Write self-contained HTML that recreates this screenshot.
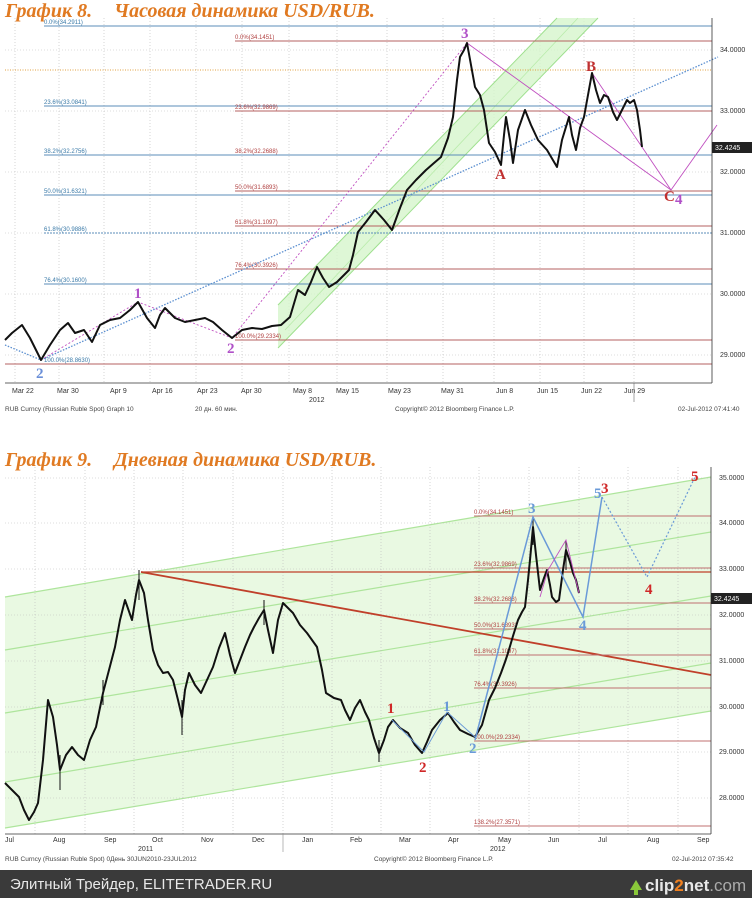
<!DOCTYPE html>
<html><head><meta charset="utf-8"><style>
html,body{margin:0;padding:0;background:#fff}
svg{display:block}
.t{font-family:"Liberation Serif","DejaVu Serif",serif;font-weight:bold;font-style:italic;fill:#e07a22;font-size:20px}
.ax{font-family:"Liberation Sans",sans-serif;font-size:7px;fill:#333}
.ft{font-family:"Liberation Sans",sans-serif;font-size:6.5px;fill:#444}
.fb{font-family:"Liberation Sans",sans-serif;font-size:6px;fill:#3a7aa8}
.fr{font-family:"Liberation Sans",sans-serif;font-size:6px;fill:#b04040}
.w{font-family:"Liberation Serif",serif;font-weight:bold;font-size:15px}
</style></head><body>
<svg width="752" height="898" viewBox="0 0 752 898" xmlns="http://www.w3.org/2000/svg">
<rect width="752" height="898" fill="#fff"/>
<text class="t" x="5" y="17">График 8.<tspan dx="22">Часовая динамика USD/RUB.</tspan></text>
<g stroke="#bbb" stroke-width="0.6" stroke-dasharray="1,2">
<line x1="5" y1="50" x2="712" y2="50"/><line x1="5" y1="111" x2="712" y2="111"/><line x1="5" y1="172" x2="712" y2="172"/>
<line x1="5" y1="233" x2="712" y2="233"/><line x1="5" y1="294" x2="712" y2="294"/><line x1="5" y1="355" x2="712" y2="355"/>
<line x1="15" y1="18" x2="15" y2="383"/><line x1="59" y1="18" x2="59" y2="383"/><line x1="104" y1="18" x2="104" y2="383"/>
<line x1="150" y1="18" x2="150" y2="383"/><line x1="196" y1="18" x2="196" y2="383"/><line x1="242" y1="18" x2="242" y2="383"/>
<line x1="289" y1="18" x2="289" y2="383"/><line x1="337" y1="18" x2="337" y2="383"/><line x1="387" y1="18" x2="387" y2="383"/>
<line x1="443" y1="18" x2="443" y2="383"/><line x1="494" y1="18" x2="494" y2="383"/><line x1="540" y1="18" x2="540" y2="383"/>
<line x1="584" y1="18" x2="584" y2="383"/><line x1="634" y1="18" x2="634" y2="383"/>
</g>
<polygon points="278,348 598,18 557,18 278,305" fill="#d6f5cc" opacity="0.8"/>
<line x1="278" y1="348" x2="598" y2="18" stroke="#9ee08e" stroke-width="1"/>
<line x1="278" y1="305" x2="557" y2="18" stroke="#9ee08e" stroke-width="1"/>
<line x1="285" y1="330" x2="578" y2="18" stroke="#b8ebaa" stroke-width="0.8"/>
<g stroke="#5b8db8" stroke-width="1">
<line x1="44" y1="26" x2="712" y2="26"/><line x1="44" y1="106" x2="712" y2="106"/><line x1="44" y1="155" x2="712" y2="155"/>
<line x1="44" y1="195" x2="712" y2="195"/><line x1="44" y1="284" x2="712" y2="284"/>
</g>
<line x1="44" y1="233" x2="712" y2="233" stroke="#5b8db8" stroke-width="1" stroke-dasharray="2,1"/>
<g stroke="#b56060" stroke-width="1">
<line x1="235" y1="41" x2="712" y2="41"/><line x1="235" y1="111" x2="712" y2="111"/><line x1="235" y1="191" x2="712" y2="191"/>
<line x1="235" y1="226" x2="712" y2="226"/><line x1="235" y1="269" x2="712" y2="269"/><line x1="235" y1="340" x2="712" y2="340"/>
<line x1="5" y1="364" x2="712" y2="364"/>
</g>
<line x1="5" y1="70" x2="712" y2="70" stroke="#e0a040" stroke-width="1" stroke-dasharray="1,1.5"/>
<text class="fb" x="44" y="24">0.0%(34.2911)</text><text class="fb" x="44" y="104">23.6%(33.0841)</text>
<text class="fb" x="44" y="153">38.2%(32.2756)</text><text class="fb" x="44" y="193">50.0%(31.6321)</text>
<text class="fb" x="44" y="231">61.8%(30.9886)</text><text class="fb" x="44" y="282">76.4%(30.1600)</text>
<text class="fb" x="44" y="362">100.0%(28.8630)</text>
<text class="fr" x="235" y="39">0.0%(34.1451)</text><text class="fr" x="235" y="109">23.6%(32.9869)</text>
<text class="fr" x="235" y="153">38.2%(32.2688)</text><text class="fr" x="235" y="189">50.0%(31.6893)</text>
<text class="fr" x="235" y="224">61.8%(31.1097)</text><text class="fr" x="235" y="267">76.4%(30.3926)</text>
<text class="fr" x="235" y="338">100.0%(29.2334)</text>
<polyline points="5,345 41,360 718,57" fill="none" stroke="#5b8fd0" stroke-width="1.3" stroke-dasharray="1.5,1.5"/>
<polyline points="41,360 138,302 232,338 467,43" fill="none" stroke="#c050c0" stroke-width="0.9" stroke-dasharray="2,2"/>
<polyline points="467,43 671,190 717,125" fill="none" stroke="#c050c0" stroke-width="0.9"/>
<polyline points="592,73 642,147 671,190" fill="none" stroke="#c050c0" stroke-width="0.9"/>
<polyline fill="none" stroke="#111" stroke-width="2" stroke-linejoin="round" points="5,340 12,333 22,325 30,338 41,360 50,345 60,330 68,323 75,333 84,330 92,342 100,325 110,320 120,318 130,310 138,302 147,318 155,328 160,315 165,308 175,318 185,322 195,320 205,318 213,322 222,330 232,338 242,330 252,328 262,329 272,326 281,325 290,317 298,290 305,295 311,282 317,267 323,278 329,287 337,282 349,270 353,255 358,232 366,222 375,210 384,220 392,230 400,208 407,190 416,180 426,170 434,163 441,157 448,138 453,117 457,80 460,57 464,50 467,43 471,65 475,87 480,95 484,110 489,143 495,152 501,165 504,135 506,117 510,140 513,163 518,130 525,110 531,125 538,140 547,150 557,167 562,140 569,117 572,135 576,150 580,128 584,117 588,95 592,73 596,90 600,103 604,95 608,97 613,112 617,120 622,110 627,100 630,103 634,100 637,110 640,130 642,147"/>
<text class="w" x="134" y="298" fill="#b050c8">1</text>
<text class="w" x="36" y="378" fill="#6a8fd8">2</text>
<text class="w" x="227" y="353" fill="#b050c8">2</text>
<text class="w" x="461" y="38" fill="#b050c8">3</text>
<text class="w" x="495" y="179" fill="#c03030" font-size="12">A</text>
<text class="w" x="586" y="71" fill="#c03030" font-size="12">B</text>
<text class="w" x="664" y="201" fill="#c03030" font-size="13">C</text>
<text class="w" x="675" y="204" fill="#b050c8">4</text>
<line x1="712" y1="18" x2="712" y2="383" stroke="#333" stroke-width="0.8"/>
<line x1="5" y1="383" x2="712" y2="383" stroke="#333" stroke-width="0.8"/>
<g class="ax"><text x="720" y="52">34.0000</text><text x="720" y="113">33.0000</text><text x="720" y="174">32.0000</text>
<text x="720" y="235">31.0000</text><text x="720" y="296">30.0000</text><text x="720" y="357">29.0000</text></g>
<rect x="712" y="142" width="40" height="11" fill="#222"/><text class="ax" x="715" y="150" style="fill:#fff">32.4245</text>
<g class="ax"><text x="12" y="393">Mar 22</text><text x="57" y="393">Mar 30</text><text x="110" y="393">Apr 9</text>
<text x="152" y="393">Apr 16</text><text x="197" y="393">Apr 23</text><text x="241" y="393">Apr 30</text>
<text x="293" y="393">May 8</text><text x="336" y="393">May 15</text><text x="388" y="393">May 23</text>
<text x="441" y="393">May 31</text><text x="496" y="393">Jun 8</text><text x="537" y="393">Jun 15</text>
<text x="581" y="393">Jun 22</text><text x="624" y="393">Jun 29</text><text x="309" y="402">2012</text></g>
<line x1="634" y1="383" x2="634" y2="402" stroke="#666" stroke-width="0.6"/>
<g class="ft"><text x="5" y="411">RUB Curncy (Russian Ruble Spot) Graph 10</text><text x="195" y="411">20 дн. 60 мин.</text>
<text x="395" y="411">Copyright© 2012 Bloomberg Finance L.P.</text><text x="678" y="411">02-Jul-2012 07:41:40</text></g>

<text class="t" x="5" y="466">График 9.<tspan dx="22">Дневная динамика USD/RUB.</tspan></text>
<polygon points="5,597 711,477 711,834 5,834" fill="#e9f9e2"/>
<polygon points="5,828 711,711 711,834 5,834" fill="#fff"/>
<g stroke="#aee59c" stroke-width="1.2">
<line x1="5" y1="597" x2="711" y2="477"/><line x1="5" y1="650" x2="711" y2="532"/><line x1="5" y1="713" x2="711" y2="596"/>
<line x1="5" y1="782" x2="711" y2="663"/><line x1="5" y1="828" x2="711" y2="711"/>
</g>
<g stroke="#bbb" stroke-width="0.6" stroke-dasharray="1,2">
<line x1="5" y1="478" x2="711" y2="478"/><line x1="5" y1="523" x2="711" y2="523"/><line x1="5" y1="569" x2="711" y2="569"/>
<line x1="5" y1="615" x2="711" y2="615"/><line x1="5" y1="661" x2="711" y2="661"/><line x1="5" y1="707" x2="711" y2="707"/>
<line x1="5" y1="752" x2="711" y2="752"/><line x1="5" y1="798" x2="711" y2="798"/>
<line x1="35" y1="467" x2="35" y2="834"/><line x1="85" y1="467" x2="85" y2="834"/><line x1="134" y1="467" x2="134" y2="834"/>
<line x1="183" y1="467" x2="183" y2="834"/><line x1="233" y1="467" x2="233" y2="834"/><line x1="283" y1="467" x2="283" y2="834"/>
<line x1="332" y1="467" x2="332" y2="834"/><line x1="381" y1="467" x2="381" y2="834"/><line x1="430" y1="467" x2="430" y2="834"/>
<line x1="479" y1="467" x2="479" y2="834"/><line x1="529" y1="467" x2="529" y2="834"/><line x1="579" y1="467" x2="579" y2="834"/>
<line x1="628" y1="467" x2="628" y2="834"/><line x1="678" y1="467" x2="678" y2="834"/>
</g>
<line x1="141" y1="572" x2="711" y2="675" stroke="#c0402a" stroke-width="1.8"/>
<line x1="141" y1="572" x2="711" y2="572" stroke="#c0402a" stroke-width="1.3"/>
<g stroke="#c07070" stroke-width="1">
<line x1="474" y1="516" x2="711" y2="516"/><line x1="474" y1="568" x2="711" y2="568"/><line x1="474" y1="603" x2="711" y2="603"/>
<line x1="474" y1="629" x2="711" y2="629"/><line x1="474" y1="655" x2="711" y2="655"/><line x1="474" y1="688" x2="711" y2="688"/>
<line x1="474" y1="741" x2="711" y2="741"/><line x1="474" y1="826" x2="711" y2="826"/>
</g>
<text class="fr" x="474" y="514">0.0%(34.1451)</text><text class="fr" x="474" y="566">23.6%(32.9869)</text>
<text class="fr" x="474" y="601">38.2%(32.2688)</text><text class="fr" x="474" y="627">50.0%(31.6893)</text>
<text class="fr" x="474" y="653">61.8%(31.1097)</text><text class="fr" x="474" y="686">76.4%(30.3926)</text>
<text class="fr" x="474" y="739">100.0%(29.2334)</text><text class="fr" x="474" y="824">138.2%(27.3571)</text>
<polyline fill="none" stroke="#111" stroke-width="2" stroke-linejoin="round" points="5,783 12,790 19,797 24,810 29,820 34,812 38,803 43,760 48,700 53,717 57,745 60,770 66,755 72,747 78,755 84,760 90,740 96,727 103,693 109,670 115,647 120,620 125,600 132,620 136,595 139,580 144,593 148,620 153,650 158,665 163,673 168,672 173,680 178,700 182,717 185,690 189,673 195,685 201,693 207,680 213,667 219,648 225,633 230,655 235,673 240,660 245,647 250,635 254,627 259,618 264,610 268,630 273,653 278,620 283,603 288,608 293,613 300,625 307,633 312,640 317,647 322,670 326,693 334,698 341,700 345,710 350,720 355,708 360,700 365,712 369,720 374,738 379,753 384,740 388,727 393,720 400,728 408,733 415,745 422,753 427,742 432,730 440,720 448,713 454,722 460,730 468,734 475,737 482,725 489,700 495,688 501,673 505,662 508,653 513,636 518,620 522,612 525,607 528,580 530,560 533,527 536,555 540,590 544,578 547,570 550,585 552,597 556,602 559,600 563,570 566,550 570,562 573,573 576,580 579,593"/>
<g stroke="#111" stroke-width="1">
<line x1="60" y1="755" x2="60" y2="790"/><line x1="103" y1="680" x2="103" y2="705"/><line x1="139" y1="570" x2="139" y2="600"/>
<line x1="182" y1="700" x2="182" y2="735"/><line x1="264" y1="600" x2="264" y2="625"/><line x1="379" y1="740" x2="379" y2="762"/>
<line x1="533" y1="518" x2="533" y2="545"/><line x1="566" y1="540" x2="566" y2="570"/>
</g>
<polyline points="475,740 533,517 583,617 602,497" fill="none" stroke="#6a9ad8" stroke-width="1.5"/>
<polyline points="602,497 647,577 695,477" fill="none" stroke="#6a9ad8" stroke-width="1.2" stroke-dasharray="2,2"/>
<polyline points="540,597 548,570 566,540 579,593" fill="none" stroke="#c050c0" stroke-width="0.9"/>
<polyline points="392,720 424,752 447,712 475,737" fill="none" stroke="#6a9ad8" stroke-width="0.9"/>
<text class="w" x="387" y="713" fill="#d02828">1</text>
<text class="w" x="419" y="772" fill="#d02828">2</text>
<text class="w" x="443" y="711" fill="#6a9ad8">1</text>
<text class="w" x="469" y="753" fill="#6a9ad8">2</text>
<text class="w" x="528" y="513" fill="#6a9ad8">3</text>
<text class="w" x="579" y="630" fill="#6a9ad8">4</text>
<text class="w" x="594" y="498" fill="#6a9ad8">5</text>
<text class="w" x="601" y="493" fill="#d02828" font-size="17">3</text>
<text class="w" x="645" y="594" fill="#d02828">4</text>
<text class="w" x="691" y="481" fill="#d02828">5</text>
<line x1="711" y1="467" x2="711" y2="834" stroke="#333" stroke-width="0.8"/>
<line x1="5" y1="834" x2="711" y2="834" stroke="#333" stroke-width="0.8"/>
<g class="ax"><text x="719" y="480">35.0000</text><text x="719" y="525">34.0000</text><text x="719" y="571">33.0000</text>
<text x="719" y="617">32.0000</text><text x="719" y="663">31.0000</text><text x="719" y="709">30.0000</text>
<text x="719" y="754">29.0000</text><text x="719" y="800">28.0000</text></g>
<rect x="711" y="593" width="41" height="11" fill="#222"/><text class="ax" x="714" y="601" style="fill:#fff">32.4245</text>
<g class="ax"><text x="5" y="842">Jul</text><text x="53" y="842">Aug</text><text x="104" y="842">Sep</text><text x="152" y="842">Oct</text>
<text x="201" y="842">Nov</text><text x="252" y="842">Dec</text><text x="302" y="842">Jan</text><text x="350" y="842">Feb</text>
<text x="399" y="842">Mar</text><text x="448" y="842">Apr</text><text x="498" y="842">May</text><text x="548" y="842">Jun</text>
<text x="598" y="842">Jul</text><text x="647" y="842">Aug</text><text x="697" y="842">Sep</text>
<text x="138" y="851">2011</text><text x="490" y="851">2012</text></g>
<line x1="283" y1="834" x2="283" y2="852" stroke="#888" stroke-width="0.6"/>
<g class="ft"><text x="5" y="861">RUB Curncy (Russian Ruble Spot) 0День 30JUN2010-23JUL2012</text>
<text x="374" y="861">Copyright© 2012 Bloomberg Finance L.P.</text><text x="672" y="861">02-Jul-2012 07:35:42</text></g>

<rect x="0" y="870" width="752" height="28" fill="#3a3a3a"/>
<text x="10" y="889" font-family="Liberation Sans, sans-serif" font-size="15" fill="#e8e8e8">Элитный Трейдер, ELITETRADER.RU</text>
<polygon points="630,890 636,880 642,890 638,890 638,895 634,895 634,890" fill="#8ac83a"/>
<text x="645" y="891" font-family="Liberation Sans, sans-serif" font-size="17" font-weight="bold" fill="#e8e8e8">clip<tspan fill="#f08020">2</tspan>net<tspan fill="#aaa" font-weight="normal">.com</tspan></text>
</svg>
</body></html>
